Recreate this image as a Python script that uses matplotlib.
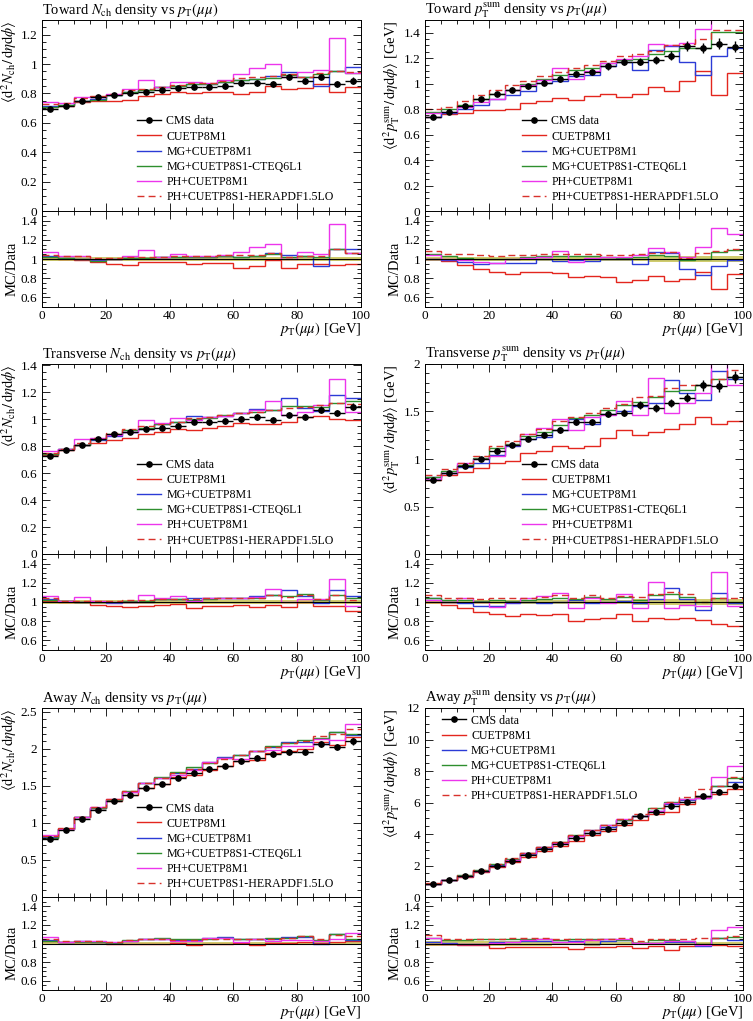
import numpy as np
import matplotlib
matplotlib.use('Agg')
import matplotlib.pyplot as plt
from matplotlib.ticker import MultipleLocator, FuncFormatter
from matplotlib.lines import Line2D

plt.rcParams['font.family'] = 'Liberation Serif'
plt.rcParams['mathtext.fontset'] = 'stix'

# bins in pT(mumu), GeV
pt_edges = [0, 5, 10, 15, 20, 25, 30, 35, 40, 45, 50, 55, 60, 65, 70, 75, 80, 85, 90, 95, 100]
pt_centers = [2.5, 7.5, 12.5, 17.5, 22.5, 27.5, 32.5, 37.5, 42.5, 47.5,
              52.5, 57.5, 62.5, 67.5, 72.5, 77.5, 82.5, 87.5, 92.5, 97.5]

mc_labels = ['CUETP8M1', 'MG+CUETP8M1', 'MG+CUETP8S1-CTEQ6L1', 'PH+CUETP8M1', 'PH+CUETP8S1-HERAPDF1.5LO']
mc_colors = ['#e3261e', '#2b3bd6', '#2e8f2e', '#ec35ec', '#d8322c']
mc_styles = ['-', '-', '-', '-', (0, (5, 3))]

# Toward Nch
tow_nch_data = [0.695, 0.716, 0.750, 0.773, 0.790, 0.805, 0.813, 0.825, 0.834, 0.847,
                0.845, 0.850, 0.872, 0.872, 0.865, 0.910, 0.883, 0.913, 0.865, 0.888]
tow_nch_err = [0.014, 0.014, 0.015, 0.015, 0.016, 0.016, 0.016, 0.017, 0.017, 0.017,
               0.018, 0.018, 0.018, 0.019, 0.019, 0.020, 0.020, 0.021, 0.022, 0.023]
tow_nch_ratio = [
    [1.02, 1.00, 0.99, 0.97, 0.945, 0.94, 0.965, 0.965, 0.97, 0.95, 0.955, 0.955, 0.91, 0.93, 0.985, 0.91, 0.945, 0.945, 0.935, 0.95],
    [1.03, 1.01, 1.00, 0.99, 1.00, 1.01, 1.01, 1.02, 1.02, 1.02, 1.02, 1.03, 1.02, 1.03, 1.06, 1.04, 1.03, 0.93, 1.10, 1.105],
    [1.02, 1.01, 1.00, 0.98, 1.00, 1.01, 1.01, 1.02, 1.02, 1.02, 1.02, 1.03, 1.02, 1.03, 1.05, 1.02, 1.03, 1.02, 1.10, 1.06],
    [1.07, 1.03, 1.035, 1.00, 1.005, 1.035, 1.095, 1.02, 1.05, 1.035, 1.03, 1.045, 1.07, 1.12, 1.155, 1.00, 1.07, 1.05, 1.365, 1.06],
    [1.045, 1.03, 1.03, 1.01, 1.01, 1.02, 1.02, 1.025, 1.03, 1.03, 1.03, 1.04, 1.04, 1.045, 1.06, 1.025, 1.035, 1.03, 1.10, 1.065],
]

# Toward pTsum
tow_pt_data = [0.740, 0.780, 0.824, 0.879, 0.919, 0.953, 0.979, 1.008, 1.039, 1.073,
               1.092, 1.136, 1.171, 1.173, 1.184, 1.220, 1.297, 1.278, 1.315, 1.291]
tow_pt_err = [0.015, 0.015, 0.016, 0.017, 0.018, 0.019, 0.020, 0.021, 0.022, 0.023,
              0.024, 0.026, 0.028, 0.030, 0.032, 0.034, 0.038, 0.040, 0.045, 0.045]
tow_pt_ratio = [
    [1.00, 0.98, 0.935, 0.90, 0.865, 0.84, 0.865, 0.86, 0.855, 0.81, 0.825, 0.81, 0.765, 0.78, 0.82, 0.775, 0.79, 0.86, 0.69, 0.84],
    [1.00, 0.99, 0.97, 0.945, 0.955, 0.96, 0.96, 1.00, 0.98, 0.99, 0.98, 1.00, 1.00, 0.945, 1.07, 1.065, 0.90, 0.835, 0.925, 0.99],
    [1.05, 1.03, 1.01, 1.00, 1.00, 1.00, 1.02, 1.03, 1.03, 1.03, 1.03, 1.02, 1.01, 1.02, 1.04, 1.03, 0.99, 1.00, 1.07, 1.09],
    [1.04, 1.00, 0.99, 0.97, 0.96, 1.00, 1.01, 1.02, 1.08, 0.965, 1.01, 1.02, 1.02, 1.04, 1.11, 1.07, 1.02, 1.12, 1.32, 1.26],
    [1.08, 1.05, 1.05, 1.04, 1.03, 1.04, 1.04, 1.05, 1.05, 1.05, 1.05, 1.04, 1.04, 1.05, 1.06, 1.07, 1.01, 1.06, 1.08, 1.10],
]

# Transverse Nch
trv_nch_data = [0.724, 0.771, 0.812, 0.852, 0.888, 0.908, 0.928, 0.937, 0.952, 0.981,
                0.976, 0.986, 1.003, 1.016, 0.998, 1.035, 1.020, 1.072, 1.045, 1.094]
trv_nch_err = [0.014, 0.015, 0.015, 0.016, 0.016, 0.017, 0.017, 0.018, 0.018, 0.019,
               0.019, 0.020, 0.020, 0.021, 0.021, 0.022, 0.022, 0.023, 0.024, 0.025]
trv_nch_ratio = [
    [1.01, 1.00, 0.995, 0.97, 0.955, 0.945, 0.96, 0.965, 0.975, 0.935, 0.96, 0.96, 0.97, 0.95, 0.965, 0.95, 1.00, 0.955, 0.96, 0.91],
    [1.03, 1.01, 1.00, 0.995, 0.99, 1.00, 1.00, 1.03, 1.03, 1.045, 1.04, 1.04, 1.04, 1.06, 1.07, 1.12, 1.06, 0.99, 1.13, 1.06],
    [1.02, 1.01, 1.00, 1.00, 1.00, 1.01, 1.01, 1.03, 1.03, 1.025, 1.035, 1.045, 1.04, 1.04, 1.07, 1.06, 1.08, 1.02, 1.07, 1.04],
    [1.06, 1.01, 1.05, 1.01, 0.995, 0.995, 1.07, 1.04, 1.06, 1.01, 1.04, 1.04, 1.04, 1.05, 1.14, 1.00, 1.03, 1.03, 1.24, 0.96],
    [1.04, 1.01, 1.01, 1.01, 1.01, 1.02, 1.02, 1.03, 1.03, 1.03, 1.04, 1.045, 1.04, 1.04, 1.07, 1.05, 1.07, 1.03, 1.07, 1.02],
]

# Transverse pTsum
trv_pt_data = [0.776, 0.856, 0.922, 1.002, 1.089, 1.148, 1.214, 1.249, 1.304, 1.391,
               1.391, 1.475, 1.489, 1.569, 1.541, 1.590, 1.645, 1.774, 1.767, 1.864]
trv_pt_err = [0.016, 0.017, 0.018, 0.020, 0.022, 0.024, 0.026, 0.027, 0.029, 0.031,
              0.033, 0.035, 0.038, 0.041, 0.043, 0.046, 0.050, 0.055, 0.060, 0.060]
trv_pt_ratio = [
    [1.00, 0.97, 0.94, 0.90, 0.875, 0.855, 0.875, 0.865, 0.875, 0.80, 0.82, 0.83, 0.875, 0.80, 0.83, 0.825, 0.83, 0.81, 0.775, 0.75],
    [1.04, 1.00, 0.99, 0.955, 0.955, 0.99, 1.00, 0.99, 1.00, 1.02, 0.985, 1.00, 1.01, 0.99, 1.03, 1.15, 1.03, 0.915, 1.09, 0.99],
    [1.04, 1.02, 1.02, 1.01, 1.02, 1.01, 1.02, 1.03, 1.04, 1.03, 1.05, 1.03, 1.05, 1.02, 1.07, 1.08, 1.05, 1.00, 1.04, 1.00],
    [1.02, 1.00, 1.04, 1.00, 0.95, 1.00, 1.04, 1.06, 1.09, 0.94, 1.04, 0.99, 1.08, 0.935, 1.205, 0.935, 0.965, 0.955, 1.31, 0.955],
    [1.07, 1.04, 1.04, 1.03, 1.04, 1.04, 1.04, 1.05, 1.07, 1.04, 1.07, 1.04, 1.06, 1.05, 1.08, 1.10, 1.08, 1.00, 1.04, 1.04],
]

# Away Nch
away_nch_data = [0.779, 0.900, 1.054, 1.176, 1.297, 1.378, 1.468, 1.527, 1.604, 1.667,
                 1.721, 1.770, 1.829, 1.878, 1.923, 1.955, 1.955, 2.068, 2.018, 2.099]
away_nch_err = [0.014, 0.016, 0.019, 0.021, 0.023, 0.025, 0.026, 0.027, 0.029, 0.030,
                0.031, 0.032, 0.033, 0.034, 0.035, 0.036, 0.037, 0.039, 0.040, 0.042]
away_nch_ratio = [
    [1.03, 1.02, 1.02, 1.02, 1.00, 1.00, 1.00, 1.00, 1.01, 0.985, 0.995, 1.00, 1.005, 0.985, 1.01, 1.01, 1.02, 1.01, 1.015, 1.03],
    [1.04, 1.02, 1.03, 1.02, 1.01, 1.03, 1.05, 1.05, 1.04, 1.04, 1.06, 1.065, 1.05, 1.05, 1.05, 1.07, 1.07, 1.00, 1.10, 1.04],
    [1.03, 1.02, 1.02, 1.02, 1.01, 1.04, 1.05, 1.06, 1.05, 1.05, 1.05, 1.06, 1.05, 1.05, 1.06, 1.06, 1.085, 1.04, 1.10, 1.05],
    [1.07, 1.02, 1.03, 1.03, 1.02, 1.03, 1.05, 1.05, 1.03, 1.03, 1.06, 1.06, 1.02, 1.05, 1.03, 1.04, 1.04, 1.03, 1.05, 1.11],
    [1.05, 1.03, 1.03, 1.03, 1.02, 1.04, 1.05, 1.05, 1.04, 1.04, 1.05, 1.05, 1.05, 1.05, 1.05, 1.06, 1.08, 1.05, 1.09, 1.08],
]

# Away pTsum
away_pt_data = [0.80, 1.05, 1.32, 1.64, 1.97, 2.31, 2.66, 3.02, 3.35, 3.77,
                4.07, 4.34, 4.70, 5.12, 5.41, 5.77, 6.06, 6.44, 6.67, 7.04]
away_pt_err = [0.02, 0.03, 0.03, 0.04, 0.05, 0.05, 0.06, 0.07, 0.07, 0.08,
               0.09, 0.09, 0.10, 0.11, 0.11, 0.12, 0.13, 0.13, 0.14, 0.15]
away_pt_ratio = [
    [1.00, 1.00, 0.985, 0.98, 0.955, 0.96, 0.965, 0.965, 0.965, 0.94, 0.96, 0.965, 0.97, 0.95, 0.975, 0.935, 0.975, 0.99, 0.98, 0.97],
    [1.02, 1.01, 1.00, 1.00, 1.02, 1.02, 1.03, 1.03, 1.02, 1.03, 1.00, 1.03, 1.04, 1.01, 1.01, 1.02, 1.02, 0.975, 1.06, 1.04],
    [1.06, 1.04, 1.04, 1.05, 1.05, 1.05, 1.05, 1.05, 1.04, 1.05, 1.05, 1.05, 1.04, 1.01, 1.04, 1.04, 1.03, 1.00, 1.06, 1.07],
    [1.06, 1.00, 0.99, 0.99, 1.01, 1.02, 1.04, 1.05, 1.02, 1.02, 1.04, 1.05, 1.05, 1.01, 1.01, 1.03, 1.03, 0.98, 1.14, 1.18],
    [1.09, 1.05, 1.05, 1.05, 1.05, 1.06, 1.06, 1.06, 1.05, 1.05, 1.05, 1.05, 1.06, 1.03, 1.05, 1.05, 1.05, 1.06, 1.06, 1.08],
]

W, H = 753, 1021
fig = plt.figure(figsize=(W / 100, H / 100), dpi=100)

cols = [(42, 361), (425, 743)]
rows = [(20, 211, 307), (364, 554, 650), (708, 897, 990)]

nch_lab = r'$\langle\mathrm{d}^2 N_\mathrm{ch}/\,\mathrm{d}\eta\mathrm{d}\phi\rangle$'
pt_lab = r'$\langle\mathrm{d}^2 p_\mathrm{T}^\mathrm{sum}/\,\mathrm{d}\eta\mathrm{d}\phi\rangle$ [GeV]'
fmt = FuncFormatter(lambda v, p: '%g' % round(v, 3))


def panel(row, col, title, ylab, ymax, ystep, yminor, data, err, ratios, leg_xy):
    l, r = cols[col]
    t, m, b = rows[row]
    ax = fig.add_axes([l / W, 1 - m / H, (r - l) / W, (m - t) / H])
    rax = fig.add_axes([l / W, 1 - b / H, (r - l) / W, (b - m) / H])
    data = np.array(data)
    err = np.array(err)

    # data uncertainty band in ratio
    rax.stairs(1 + err / data, pt_edges, baseline=1 - err / data, fill=True,
               color='#c8c455', alpha=0.85, lw=0)
    for rat, c, ls in zip(ratios, mc_colors, mc_styles):
        rat = np.array(rat)
        ax.stairs(data * rat, pt_edges, baseline=None, color=c, ls=ls, lw=1.0)
        rax.stairs(rat, pt_edges, baseline=None, color=c, ls=ls, lw=1.0)
    rax.stairs(data / data, pt_edges, baseline=None, color='k', lw=0.8, zorder=4)
    ax.errorbar(pt_centers, data, yerr=err, xerr=2.5, fmt='o', color='k',
                ms=3.8, lw=1.0, capsize=0, zorder=5)

    for a in (ax, rax):
        a.set_xlim(0, 100)
        a.xaxis.set_major_locator(MultipleLocator(20))
        a.xaxis.set_minor_locator(MultipleLocator(5))
        a.tick_params(which='both', direction='in', top=True, right=True, labelsize=9.5, pad=3.5)
        a.tick_params(which='major', length=6, width=0.6)
        a.tick_params(which='minor', length=3, width=0.6)
        a.yaxis.set_major_formatter(fmt)
        for s in a.spines.values():
            s.set_linewidth(0.7)
    ax.tick_params(labelbottom=False)
    rax.tick_params(axis='x', pad=2.5)
    ax.set_ylim(0, ymax)
    ax.yaxis.set_major_locator(MultipleLocator(ystep))
    ax.yaxis.set_minor_locator(MultipleLocator(yminor))
    rax.set_ylim(0.5, 1.5)
    rax.set_yticks([0.6, 0.8, 1.0, 1.2, 1.4])
    rax.yaxis.set_minor_locator(MultipleLocator(0.05))
    rax.xaxis.set_major_formatter(fmt)

    ax.text(0, 1 + 6 / (m - t), title, transform=ax.transAxes, fontsize=10.5,
            ha='left', va='baseline')
    ax.set_ylabel(ylab, fontsize=10.5, loc='top', va='center')
    ax.yaxis.set_label_coords(-33 / (r - l), 1)
    rax.set_ylabel('MC/Data', fontsize=10.5, va='center')
    rax.yaxis.set_label_coords(-30 / (r - l), 0.4)
    rax.set_xlabel(r'$p_\mathrm{T}(\mu\mu)$ [GeV]', fontsize=10.5, loc='right', va='center')
    rax.xaxis.set_label_coords(1, -22 / (b - m))

    handles = [Line2D([], [], color='k', marker='o', ms=3.8, lw=1.0)]
    handles += [Line2D([], [], color=c, ls=ls, lw=1.0) for c, ls in zip(mc_colors, mc_styles)]
    ax.legend(handles, ['CMS data'] + mc_labels, loc='upper left', bbox_to_anchor=leg_xy,
              frameon=False, fontsize=8.6, handlelength=2.0, handletextpad=0.45,
              labelspacing=0.26, borderpad=0, borderaxespad=0)


panel(0, 0, r'Toward $N_\mathrm{ch}$ density vs $p_\mathrm{T}(\mu\mu)$', nch_lab,
      1.3, 0.2, 0.05, tow_nch_data, tow_nch_err, tow_nch_ratio, (0.298, 0.50))
panel(0, 1, r'Toward $p_\mathrm{T}^\mathrm{sum}$ density vs $p_\mathrm{T}(\mu\mu)$', pt_lab,
      1.5, 0.2, 0.05, tow_pt_data, tow_pt_err, tow_pt_ratio, (0.305, 0.50))
panel(1, 0, r'Transverse $N_\mathrm{ch}$ density vs $p_\mathrm{T}(\mu\mu)$', nch_lab,
      1.41, 0.2, 0.05, trv_nch_data, trv_nch_err, trv_nch_ratio, (0.298, 0.50))
panel(1, 1, r'Transverse $p_\mathrm{T}^\mathrm{sum}$ density vs $p_\mathrm{T}(\mu\mu)$', pt_lab,
      2.0, 0.5, 0.1, trv_pt_data, trv_pt_err, trv_pt_ratio, (0.305, 0.50))
panel(2, 0, r'Away $N_\mathrm{ch}$ density vs $p_\mathrm{T}(\mu\mu)$', nch_lab,
      2.55, 0.5, 0.1, away_nch_data, away_nch_err, away_nch_ratio, (0.298, 0.50))
panel(2, 1, r'Away $p_\mathrm{T}^\mathrm{sum}$ density vs $p_\mathrm{T}(\mu\mu)$', pt_lab,
      12, 2, 0.5, away_pt_data, away_pt_err, away_pt_ratio, (0.053, 0.965))

fig.savefig('out.png', dpi=100)
